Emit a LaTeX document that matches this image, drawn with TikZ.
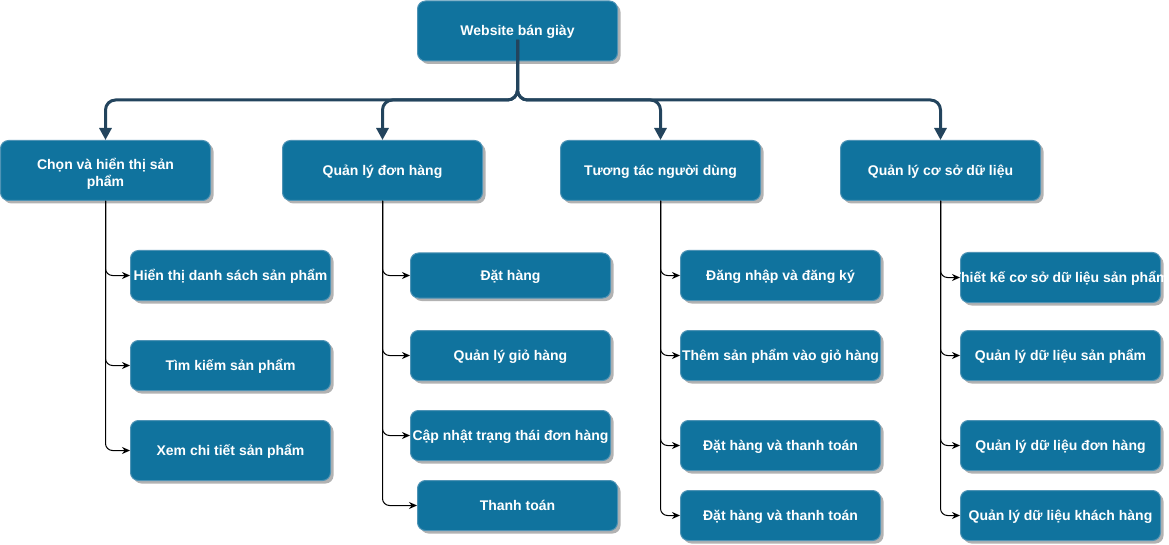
\documentclass[tikz,border=0pt]{standalone}
\usepackage{fontspec}
\setmainfont{Liberation Sans}
\usetikzlibrary{arrows.meta,shadows}
\definecolor{boxblue}{HTML}{10739E}
\definecolor{boxedge}{HTML}{4F93B5}
\definecolor{busblue}{HTML}{23445D}

\begin{document}
\begin{tikzpicture}[x=1pt,y=-1pt,
    box/.style = {draw=boxedge, line width=1pt, fill=boxblue, rounded corners=8pt,
        text=white, font=\bfseries\fontsize{14}{17}\selectfont, align=center,
        minimum width=200pt, minimum height=50pt, inner sep=1pt,
        text height=12pt, text depth=2pt,
        drop shadow={shadow xshift=3pt, shadow yshift=-3pt, opacity=0.3, fill=black}},
    bus/.style = {draw=busblue, line width=3pt, rounded corners=10pt,
        -{Triangle[length=12pt,width=12pt]}},
    sub/.style = {draw=black, line width=1pt, rounded corners=7pt,
        -{Stealth[length=8pt,width=7pt]}}]
                \useasboundingbox (0,0) rectangle (1169,545);

                \node[box, minimum height=60pt](web) at (517.5,31){Website bán giày};
                \node[box, minimum height=60pt, minimum width=210pt, text height=, text depth=](chon) at (105.5,170.5){\rule{0pt}{17pt}Chọn và hiển thị sản\\phẩm};
                \node[box, minimum height=60pt](donhang) at (382.5,170.5){Quản lý đơn hàng};
                \node[box, minimum height=60pt](tuongtac) at (660.5,170.5){Tương tác người dùng};
                \node[box, minimum height=60pt](csdl) at (940.5,170.5){Quản lý cơ sở dữ liệu};

                \node[box](chon1) at (230.5,275.5){Hiển thị danh sách sản phẩm};
                \node[box](chon2) at (230.5,365.5){Tìm kiếm sản phẩm};
                \node[box, minimum height=60pt](chon3) at (230.5,450.5){Xem chi tiết sản phẩm};

                \node[box, minimum height=45pt](don1) at (510.5,275.5){Đặt hàng};
                \node[box](don2) at (510.5,355.5){Quản lý giỏ hàng};
                \node[box](don3) at (510.5,435.5){Cập nhật trạng thái đơn hàng};
                \node[box](don4) at (517.5,505.5){Thanh toán};

                \node[box](tt1) at (780.5,275.5){Đăng nhập và đăng ký};
                \node[box](tt2) at (780.5,355.5){Thêm sản phẩm vào giỏ hàng};
                \node[box](tt3) at (780.5,445.5){Đặt hàng và thanh toán};
                \node[box](tt4) at (780.5,515.5){Đặt hàng và thanh toán};

                \node[box](db1) at (1060.5,277.5){\makebox[0pt]{Thiết kế cơ sở dữ liệu sản phẩm}};
                \node[box](db2) at (1060.5,355.5){Quản lý dữ liệu sản phẩm};
                \node[box](db3) at (1060.5,445.5){Quản lý dữ liệu đơn hàng};
                \node[box](db4) at (1060.5,515.5){Quản lý dữ liệu khách hàng};

                % nhanh chinh
                \coordinate (bus) at (517.5,100);
                \draw[bus] ([yshift=-9pt]web.center) -- (bus) -| (chon.north);
                \draw[bus] ([yshift=-9pt]web.center) -- (bus) -| (donhang.north);
                \draw[bus] ([yshift=-9pt]web.center) -- (bus) -| (tuongtac.north);
                \draw[bus] ([yshift=-9pt]web.center) -- (bus) -| (csdl.north);

                % nhanh con
                \draw[sub] (chon.south) |- (chon1.west);
                \draw[sub] (chon.south) |- (chon2.west);
                \draw[sub] (chon.south) |- (chon3.west);
                \draw[sub] (donhang.south) |- (don1.west);
                \draw[sub] (donhang.south) |- (don2.west);
                \draw[sub] (donhang.south) |- (don3.west);
                \draw[sub] (donhang.south) |- (don4.west);
                \draw[sub] (tuongtac.south) |- (tt1.west);
                \draw[sub] (tuongtac.south) |- (tt2.west);
                \draw[sub] (tuongtac.south) |- (tt3.west);
                \draw[sub] (tuongtac.south) |- (tt4.west);
                \draw[sub] (csdl.south) |- (db1.west);
                \draw[sub] (csdl.south) |- (db2.west);
                \draw[sub] (csdl.south) |- (db3.west);
                \draw[sub] (csdl.south) |- (db4.west);
            \end{tikzpicture}
\end{document}
